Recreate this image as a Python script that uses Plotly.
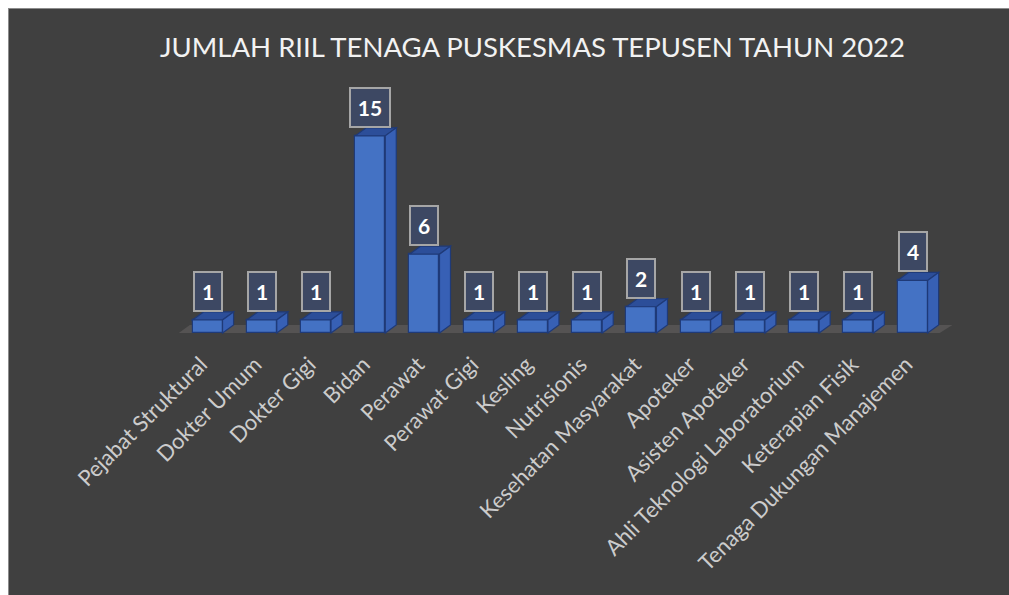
import plotly.graph_objects as go

categories = ["Pejabat Struktural", "Dokter Umum", "Dokter Gigi", "Bidan", "Perawat",
              "Perawat Gigi", "Kesling", "Nutrisionis", "Kesehatan Masyarakat", "Apoteker",
              "Asisten Apoteker", "Ahli Teknologi Laboratorium", "Keterapian Fisik",
              "Tenaga Dukungan Manajemen"]
values = [1, 1, 1, 15, 6, 1, 1, 1, 2, 1, 1, 1, 1, 4]
title_text = "JUMLAH RIIL TENAGA PUSKESMAS TEPUSEN TAHUN 2022"

W, H = 1001, 587
ML, MT = 167, 95
MR = W - 948
MB = H - 329
XR = [-0.6, 13.8]
YR = [-0.3, 17.5]
BW = 0.553      # bar front width (category units)
DX = 0.203      # depth offset x (category units)
DY = 0.61       # depth offset y (value units)
TICK_SHIFT = -0.12

FRONT = "#4472C4"
TOP = "#2C4E99"
SIDE = "#3760B5"
EDGE = "#1F3A78"
BG = "#404040"

idx = list(range(len(categories)))

fig = go.Figure()
fig.add_trace(go.Bar(
    x=idx, y=values, width=BW,
    marker=dict(color=FRONT, line=dict(color=EDGE, width=1.2)),
    hoverinfo="x+y", showlegend=False,
))

shapes = []
pw = W - ML - MR
ph = H - MT - MB
# card border (left/top visible)
shapes.append(dict(type="rect", xref="paper", yref="paper", layer="below",
                   x0=-ML / pw, x1=(W + 20 - ML) / pw,
                   y0=-(MB + 20) / ph, y1=(ph + MT) / ph,
                   fillcolor="rgba(0,0,0,0)", line=dict(color="#8C8C8C", width=2)))
# floor
n = len(categories)
fx0, fx1 = -0.53, n - 0.5
shapes.append(dict(type="path", xref="x", yref="y", layer="below",
                   path=f"M {fx0},0 L {fx1},0 L {fx1+DX+0.03},{DY} L {fx0+DX},{DY} Z",
                   fillcolor="#555353", line=dict(width=0)))
for i, v in zip(idx, values):
    xl, xr = i - BW / 2, i + BW / 2
    shapes.append(dict(type="path", xref="x", yref="y", layer="above",
                       path=f"M {xl},{v} L {xr},{v} L {xr+DX},{v+DY} L {xl+DX},{v+DY} Z",
                       fillcolor=TOP, line=dict(color=EDGE, width=1.2)))
    shapes.append(dict(type="path", xref="x", yref="y", layer="above",
                       path=f"M {xr},0 L {xr},{v} L {xr+DX},{v+DY} L {xr+DX},{DY} Z",
                       fillcolor=SIDE, line=dict(color=EDGE, width=1.2)))

annotations = []
for i, v in zip(idx, values):
    s = str(v)
    annotations.append(dict(
        x=i, y=v + DY, xref="x", yref="y", text=f"<b>{s}</b>", showarrow=False,
        xanchor="center", yanchor="bottom", yshift=0,
        font=dict(family="Lato", size=21, color="#FFFFFF"),
        bgcolor="#3D4863", bordercolor="#A6A6A6", borderwidth=2, borderpad=3,
        width=8 + 12 * len(s), height=31,
    ))

fig.update_layout(
    width=W, height=H,
    margin=dict(l=ML, r=MR, t=MT, b=MB, autoexpand=False),
    paper_bgcolor=BG, plot_bgcolor="rgba(0,0,0,0)",
    title=dict(text=title_text, xref="container", yref="container",
               x=524.5 / W, y=1 - 39 / H, xanchor="center", yanchor="middle",
               font=dict(family="Lato", size=27.5, color="#F2F2F2")),
    xaxis=dict(range=XR, tickmode="array", tickvals=[i + TICK_SHIFT for i in idx],
               ticktext=categories,
               tickangle=-45, showgrid=False, zeroline=False, showline=False,
               ticks="outside", ticklen=5, tickcolor="rgba(0,0,0,0)",
               tickfont=dict(family="Lato", size=22, color="#CCCCCC")),
    yaxis=dict(range=YR, visible=False, showgrid=False, zeroline=False),
    shapes=shapes, annotations=annotations,
    bargap=0,
)

page_js = ("document.body.style.margin='8px 0 0 8px';"
           "document.body.style.padding='0';"
           "document.documentElement.style.overflow='hidden';")
fig.write_html("out.html", post_script=page_js)
